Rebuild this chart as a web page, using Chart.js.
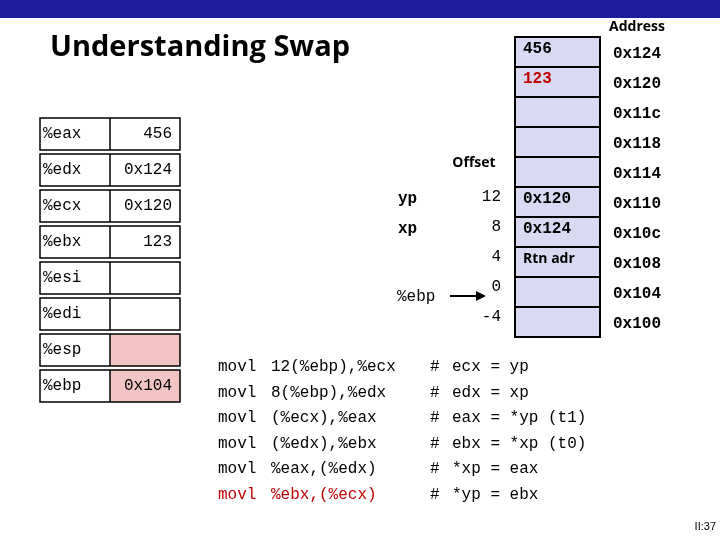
<!DOCTYPE html>
<html><head><meta charset="utf-8">
<script src="https://cdn.jsdelivr.net/npm/chart.js@4"></script>
<style>html,body{margin:0;padding:0;background:#fff}#c{display:block}</style>
</head><body>
<div style="width:720px;height:540px"><canvas id="c" width="720" height="540"></canvas></div>
<script>
const title = "Understanding Swap";
const addresses = ["0x124","0x120","0x11c","0x118","0x114","0x110","0x10c","0x108","0x104","0x100"];
const stackCells = ["456","123","","","","0x120","0x124","Rtn adr","",""];
const offsets = ["","","","","","12","8","4","0","-4"];
const argNames = ["","","","","","yp","xp","","",""];
const regNames = ["%eax","%edx","%ecx","%ebx","%esi","%edi","%esp","%ebp"];
const regValues = ["456","0x124","0x120","123","","","","0x104"];
const codeOps = ["movl","movl","movl","movl","movl","movl"];
const codeArgs = ["12(%ebp),%ecx","8(%ebp),%edx","(%ecx),%eax","(%edx),%ebx","%eax,(%edx)","%ebx,(%ecx)"];
const codeComments = ["ecx = yp","edx = xp","eax = *yp (t1)","ebx = *xp (t0)","*xp = eax","*yp = ebx"];

const mono = "'Liberation Mono', 'DejaVu Sans Mono', monospace";

const slide = {
  id:'slide',
  afterDraw(chart){
    const c = chart.ctx, X = v=>chart.scales.x.getPixelForValue(v), Y = v=>chart.scales.y.getPixelForValue(v);
    c.save();
    c.fillStyle='#1c1c9c'; c.fillRect(X(0),Y(0),X(720)-X(0),Y(18)-Y(0));
    c.fillStyle='#000'; c.font="bold 29px 'Open Sans', sans-serif"; c.textBaseline='middle';
    c.fillText(title,X(50),Y(48));
    const top=37, h=30, sx=515, sw=85;
    addresses.forEach((a,i)=>{
      const y0=top+i*h;
      c.fillStyle='#d9d9f3'; c.fillRect(X(sx),Y(y0),sw,h);
      c.strokeStyle='#000'; c.lineWidth=2;
      c.strokeRect(X(sx),Y(y0),sw,h);
      c.textBaseline='middle'; c.textAlign='left';
      c.fillStyle = i===1 ? '#c00000' : '#000';
      c.font = stackCells[i]==="Rtn adr" ? "bold 14px 'Open Sans', sans-serif" : "bold 16px "+mono;
      c.fillText(stackCells[i],X(sx+8),Y(y0+h/2-3));
      c.fillStyle='#000'; c.font="bold 16px "+mono;
      c.fillText(a,X(613),Y(y0+h/2+2));
      c.font="16px "+mono;
      if(offsets[i]){c.textAlign='right'; c.fillText(offsets[i],X(501),Y(y0+h/2-5));}
      if(argNames[i]){c.textAlign='left'; c.font="bold 16px "+mono; c.fillText(argNames[i],X(398),Y(y0+h/2-3));}
    });
    c.textAlign='center'; c.font="bold 14px 'Open Sans', sans-serif";
    c.fillText("Address",X(637),Y(27)); c.fillText("Offset",X(474),Y(163));
    c.font="16px "+mono; c.textAlign='left'; c.fillText("%ebp",X(397),Y(297));
    c.lineWidth=2; c.beginPath(); c.moveTo(X(450),Y(296)); c.lineTo(X(478),Y(296)); c.stroke();
    c.beginPath(); c.moveTo(X(486),Y(296)); c.lineTo(X(476),Y(291)); c.lineTo(X(476),Y(301)); c.closePath(); c.fill();
    regNames.forEach((r,i)=>{
      const y0=118+i*36;
      if(i>=6){c.fillStyle='#f2c4c4'; c.fillRect(X(110),Y(y0),70,32);}
      c.strokeStyle='#000'; c.lineWidth=1.5; c.strokeRect(X(40),Y(y0),140,32);
      c.beginPath(); c.moveTo(X(110),Y(y0)); c.lineTo(X(110),Y(y0+32)); c.stroke();
      c.fillStyle='#000'; c.font="16px "+mono; c.textAlign='left';
      c.fillText(r,X(43),Y(y0+16));
      c.textAlign='right'; c.fillText(regValues[i],X(172),Y(y0+16));
    });
    c.textAlign='left'; c.font="16px "+mono;
    codeOps.forEach((o,i)=>{
      const y=367+i*25.5;
      c.fillStyle = i===5 ? '#c00000' : '#000';
      c.fillText(o,X(218),Y(y)); c.fillText(codeArgs[i],X(271),Y(y));
      c.fillStyle='#000';
      c.fillText("#",X(430),Y(y));
      c.fillText(codeComments[i],X(452),Y(y));
    });
    c.fillStyle='#000'; c.font="11px 'Liberation Sans', sans-serif"; c.textAlign='right';
    c.fillText("II:37",X(716),Y(527));
    c.restore();
  }
};
new Chart(document.getElementById('c'),{
  type:'scatter',
  data:{datasets:[{data:[]}]},
  options:{responsive:false,animation:false,layout:{padding:0},
    plugins:{legend:{display:false},tooltip:{enabled:false}},
    scales:{x:{type:'linear',min:0,max:720,display:false},y:{type:'linear',min:0,max:540,reverse:true,display:false}}},
  plugins:[slide]
});
</script></body></html>
